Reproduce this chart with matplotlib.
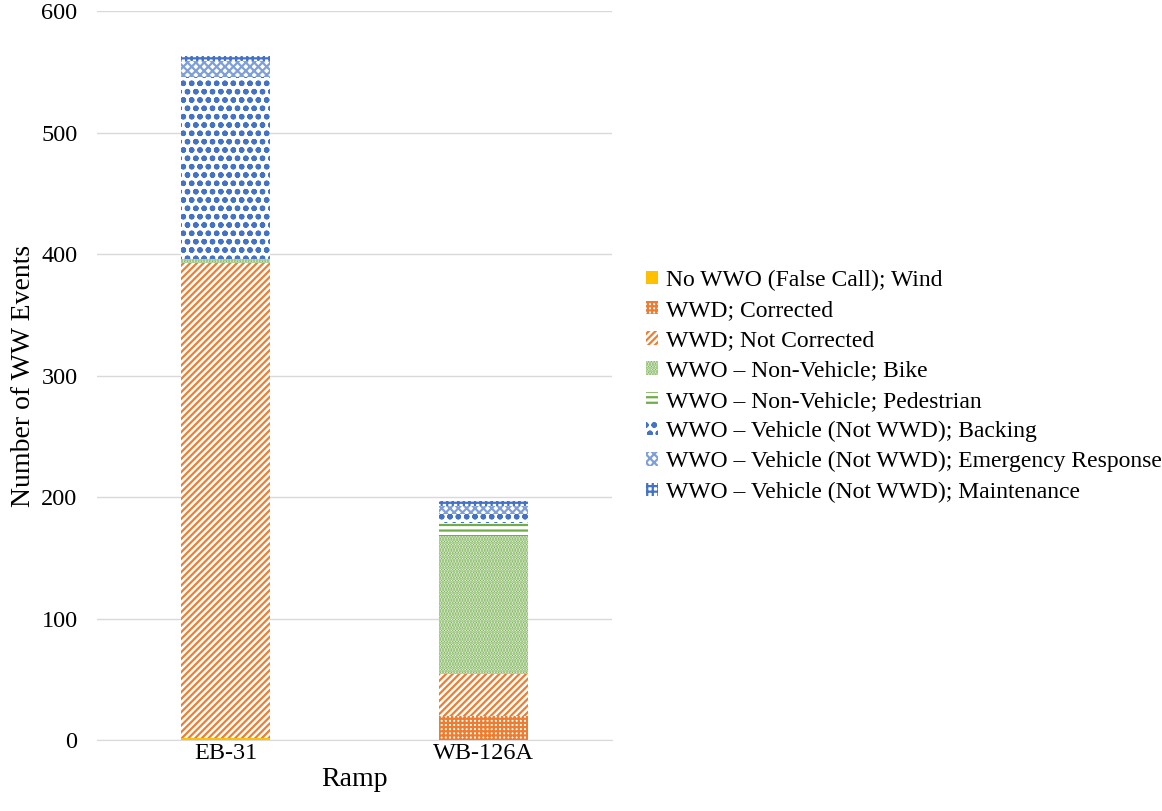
import matplotlib
matplotlib.use("Agg")
import matplotlib.pyplot as plt
import numpy as np

ramps = ["EB-31", "WB-126A"]
series = [
    "No WWO (False Call); Wind",
    "WWD; Corrected",
    "WWD; Not Corrected",
    "WWO – Non-Vehicle; Bike",
    "WWO – Non-Vehicle; Pedestrian",
    "WWO – Vehicle (Not WWD); Backing",
    "WWO – Vehicle (Not WWD); Emergency Response",
    "WWO – Vehicle (Not WWD); Maintenance",
]
wind = [2, 0]
corrected = [0, 20]
not_corrected = [391, 34]
bike = [3, 114]
pedestrian = [0, 11]
backing = [150, 7]
emergency = [13, 7]
maintenance = [4, 4]
values = [wind, corrected, not_corrected, bike, pedestrian, backing, emergency, maintenance]

orange = "#ED7D31"
yellow = "#FFC000"
green = "#70AD47"
blue = "#4472C4"
styles = [
    dict(facecolor=yellow, edgecolor=yellow, hatch=None),
    dict(facecolor="white", edgecolor=orange, hatch="++++"),
    dict(facecolor="white", edgecolor=orange, hatch="/////"),
    dict(facecolor="white", edgecolor=green, hatch="......"),
    dict(facecolor="white", edgecolor=green, hatch="---"),
    dict(facecolor="white", edgecolor=blue, hatch="oo"),
    dict(facecolor="white", edgecolor="#7F9FD8", hatch="xxxx"),
    dict(facecolor="white", edgecolor=blue, hatch="+++"),
]

plt.rcParams["font.family"] = ["Liberation Serif", "DejaVu Serif"]
plt.rcParams["hatch.linewidth"] = 1.6

fig = plt.figure(figsize=(11.62, 8.11), dpi=100)
ax = fig.add_axes([0.0835, 0.0875, 0.4435, 0.8985])

x = np.arange(len(ramps))
bottom = np.zeros(len(ramps))
handles = []
for name, vals, st in zip(series, values, styles):
    v = np.array(vals, dtype=float)
    b = ax.bar(x, v, width=0.345, bottom=bottom, label=name, linewidth=0, zorder=3, **st)
    handles.append(b)
    bottom += v

ax.set_xlim(-0.5, 1.5)
ax.set_ylim(0, 600)
ax.set_yticks(range(0, 601, 100))
ax.set_xticks(x)
ax.set_xticklabels(ramps)
ax.grid(axis="y", color="#D9D9D9", linewidth=1, zorder=0)
for s in ["top", "right", "left"]:
    ax.spines[s].set_visible(False)
ax.spines["bottom"].set_color("#D9D9D9")
ax.tick_params(axis="y", length=0, labelsize=17.5, pad=14)
ax.tick_params(axis="x", length=0, labelsize=17.5, pad=2)
ax.set_ylabel("Number of WW Events", fontsize=20, labelpad=4)
ax.set_xlabel("Ramp", fontsize=20, labelpad=2)

fig.legend(handles=handles, labels=series, loc="upper left",
           bbox_to_anchor=(0.546, 0.682), frameon=False, fontsize=17,
           handlelength=0.5, handleheight=0.5, handletextpad=0.35,
           labelspacing=0.39, borderpad=0)

fig.savefig("out.png", dpi=100)
